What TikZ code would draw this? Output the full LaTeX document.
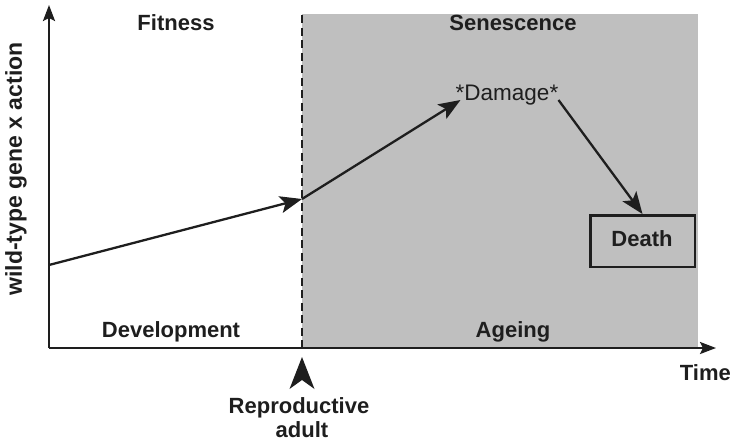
\documentclass[tikz,border=0pt]{standalone}
\usepackage{fontspec}
\setmainfont{Liberation Sans}
\usepackage{tikz}
\usetikzlibrary{arrows.meta,positioning,calc}
\definecolor{Ink}{HTML}{1E1E1E}
\definecolor{AgeGray}{HTML}{BFBFBF}

\begin{document}
\begin{tikzpicture}[x=1pt, y=-1pt, >={Stealth[length=22pt, width=17pt, inset=5pt]},
    every node/.style={font=\fontsize{22}{26}\selectfont\bfseries, text=Ink},
    label/.style={anchor=base},
    axis/.style={draw=Ink, line width=2.3pt, -{Stealth[length=16pt, width=12pt, inset=3pt]}},
    flow/.style={draw=Ink, line width=2.3pt, ->}]
  \useasboundingbox (0,0) rectangle (732,445);
  % ageing region
  \fill[AgeGray] (302,14) rectangle (698,348);
  % axes
  \coordinate (origin) at (49,348);
  \coordinate (ytop) at (49,5);
  \coordinate (xend) at (716,348);
  \draw[axis] (origin) -- (ytop);
  \draw[axis] (origin) -- (xend);
  \coordinate (adult) at (302,348);
  \coordinate (adulttop) at (302,13);
  \draw[Ink, line width=2.3pt, dash pattern=on 8pt off 4.5pt] (adult) -- (adulttop);
  % gene action path
  \coordinate (start) at (49,265);
  \coordinate (mature) at (302,199);
  \node[label, inner sep=0pt, font=\fontsize{22.5}{26}\selectfont] (damage) at (507,100) {*Damage*};
  \node[draw=Ink, line width=2.5pt, minimum width=104.5pt, minimum height=51.5pt] (death) at (642.5,241) {};
  \node[label] (deathtext) at (642,246) {Death};
  \draw[flow] (start) -- (mature);
  \draw[flow] (mature) -- ([xshift=5pt]damage.base west);
  \draw[flow] (damage.base east) -- (death.north);
  % labels
  \node[label] (fitness) at (176,30) {Fitness};
  \node[label] (senescence) at (513,30) {Senescence};
  \node[label] (development) at (171,337) {Development};
  \node[label] (ageing) at (513,337) {Ageing};
  \node[anchor=base east, inner sep=0pt] (time) at (731,380) {Time};
  \node[rotate=90, font=\fontsize{23}{27}\selectfont\bfseries] (ylabel) at (16,169) {wild-type gene x action};
  \node[label] (repro) at (299,413) {Reproductive};
  \node[label] (adulttext) at (302,437) {adult};
  \fill[Ink] (302,357) -- (314.5,389) -- (302,380) -- (289.5,389) -- cycle;
\end{tikzpicture}
\end{document}
